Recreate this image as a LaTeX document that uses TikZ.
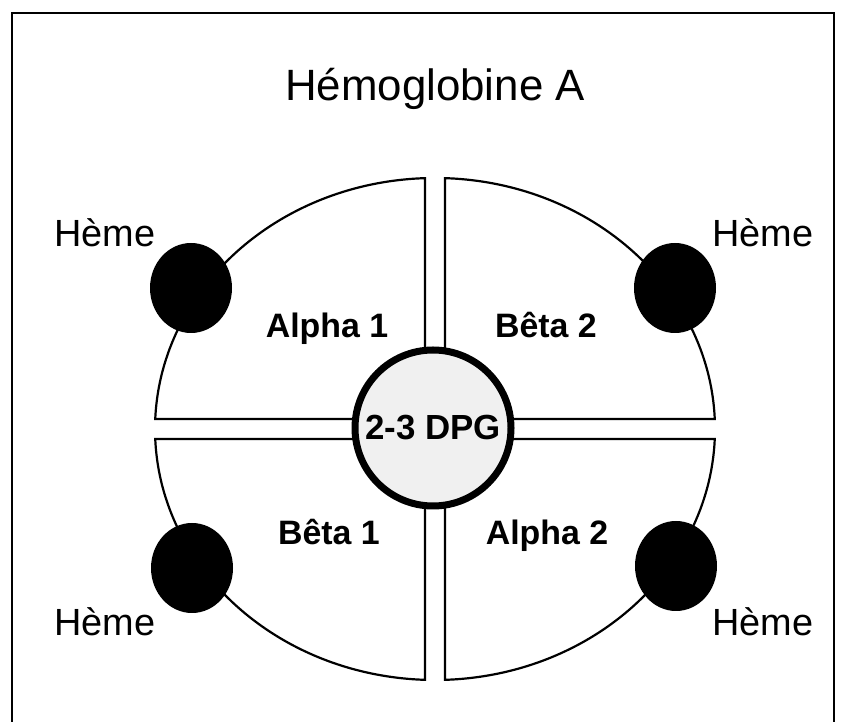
\documentclass[tikz,border=0pt]{standalone}
\usepackage{fontspec}
\setmainfont{Liberation Sans}
\usetikzlibrary{shapes.geometric}

\begin{document}
\begin{tikzpicture}[x=1bp, y=1bp,
		heme/.style={ellipse, fill=black, minimum width=82bp, minimum height=90bp, inner sep=0pt},
		hemetext/.style={anchor=base, font=\fontsize{38}{42}\selectfont},
		chain/.style={anchor=base, font=\bfseries\fontsize{34}{38}\selectfont}]
			\useasboundingbox (0,0) rectangle (845,722);
			% frame
			\draw[line width=2bp] (12,0) -- (12,709) -- (834,709) -- (834,0);
			\node[anchor=base, font=\fontsize{44}{50}\selectfont] (title) at (435,621) {Hémoglobine A};
			
			\begin{scope}[shift={(435,293)}]
				% quadrants
				\foreach \sx/\sy in {1/1, -1/1, -1/-1, 1/-1}
					\draw[line width=2.2bp, xscale=\sx, yscale=\sy] (10,10) -- (10,250.84)
						arc[start angle=87.95, end angle=2.28, x radius=280, y radius=251] -- cycle;
				
				% 2-3 DPG
				\node[circle, draw, line width=7bp, fill=black!6, minimum size=156bp, inner sep=0pt,
					font=\bfseries\fontsize{35}{40}\selectfont] (dpg) at (-2,1) {2-3 DPG};
				
				\node[chain] (alpha1) at (-108,91) {Alpha 1};
				\node[chain] (beta2) at (111,91) {Bêta 2};
				\node[chain] (beta1) at (-106,-116) {Bêta 1};
				\node[chain] (alpha2) at (112,-116) {Alpha 2};
				
				% hemes
				\node[heme] (heme1) at (-244,141) {};
				\node[heme] (heme2) at (240,141) {};
				\node[heme] (heme3) at (-243,-139) {};
				\node[heme] (heme4) at (241,-137) {};
				\node[hemetext] (label1) at (-330,182) {Hème};
				\node[hemetext] (label2) at (328,182) {Hème};
				\node[hemetext] (label3) at (-330,-207) {Hème};
				\node[hemetext] (label4) at (328,-207) {Hème};
			\end{scope}
		\end{tikzpicture}
\end{document}
